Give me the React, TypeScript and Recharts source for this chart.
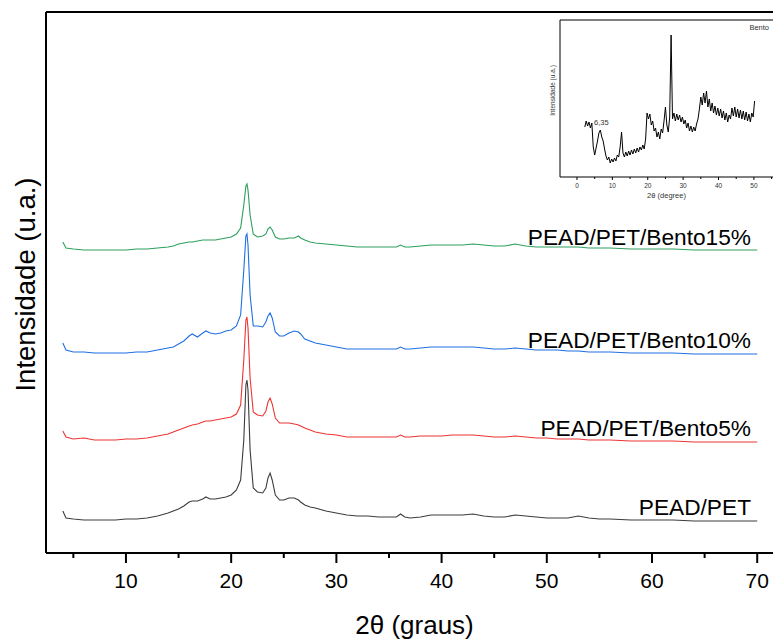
import { LineChart, Line, XAxis, YAxis } from 'recharts';

// 2θ (degrees) sampled along the main patterns
const theta = [
  4.0, 4.3, 5, 6, 7, 8, 9, 10, 11, 12, 13, 14, 14.5, 15, 15.5, 16, 16.3, 16.8, 17.3, 17.6,
  18, 18.5, 19, 19.5, 20, 20.5, 20.9, 21.2, 21.4, 21.5, 21.6, 21.8, 22.1, 22.5, 23, 23.3, 23.5,
  23.7, 23.9, 24.2, 24.6, 25, 25.5, 26, 26.4, 26.6, 27, 27.5, 28, 29, 30, 31, 32, 33, 34, 35,
  35.7, 36.1, 36.5, 37, 38, 39, 40, 41, 42, 43, 44, 45, 46, 47, 48, 49, 50, 51, 52, 53, 54, 55,
  56, 58, 60, 62, 64, 66, 68, 70,
];

// stacked intensities (a.u., offset already included)
const pead = [
  42, 35, 34, 33, 33, 33, 33, 34, 34, 35, 37, 40, 42, 44, 47, 51, 52, 52, 54, 56,
  54, 54, 55, 56, 58, 63, 73, 113, 168, 173, 163, 103, 65, 61, 60, 65, 75,
  80, 73, 58, 53, 53, 55, 55, 53, 51, 48, 46, 45, 42, 40, 38, 37, 37, 36, 36,
  36, 39, 36, 35, 36, 38, 38, 38, 38, 39, 37, 36, 36, 38, 37, 36, 35, 35, 35, 37, 35, 34,
  34, 33, 33, 33, 32, 32, 32, 32,
];
const bento5 = [
  122, 116, 114, 115, 113, 113, 113, 114, 114, 115, 117, 119, 121, 123, 125, 127, 128, 129, 131, 132,
  132, 133, 134, 135, 136, 139, 148, 193, 233, 236, 225, 175, 141, 138, 137, 142, 151,
  155, 149, 135, 130, 130, 130, 129, 128, 127, 125, 123, 121, 119, 118, 116, 116, 116, 116, 116,
  116, 118, 116, 116, 117, 117, 117, 118, 118, 118, 117, 116, 116, 117, 116, 115, 115, 114, 114, 114, 113, 113,
  113, 112, 112, 112, 111, 111, 111, 111,
];
const bento10 = [
  210, 203, 201, 201, 200, 200, 200, 200, 201, 201, 203, 205, 206, 209, 212, 217, 219, 216, 220, 222,
  220, 219, 220, 222, 223, 227, 238, 283, 317, 319, 308, 258, 227, 227, 226, 231, 237,
  240, 235, 221, 217, 217, 220, 222, 221, 219, 214, 212, 210, 208, 206, 204, 204, 204, 204, 204,
  204, 206, 204, 204, 205, 206, 206, 206, 206, 206, 205, 204, 204, 205, 204, 203, 203, 203, 202, 202, 201, 201,
  201, 200, 200, 200, 199, 199, 199, 199,
];
const bento15 = [
  311, 305, 304, 303, 303, 303, 303, 303, 304, 304, 305, 306, 307, 309, 310, 311, 311, 312, 313, 313,
  313, 313, 314, 315, 316, 319, 325, 348, 367, 369, 363, 338, 319, 316, 317, 319, 324,
  326, 323, 316, 314, 314, 315, 315, 317, 315, 313, 311, 310, 309, 308, 307, 306, 306, 306, 306,
  306, 308, 306, 306, 307, 308, 308, 308, 308, 309, 308, 307, 307, 309, 307, 306, 306, 306, 306, 306, 305, 305,
  305, 304, 304, 304, 303, 303, 303, 303,
];

const xTicks = [5, 10, 15, 20, 25, 30, 35, 40, 45, 50, 55, 60, 65, 70];

// inset: raw bentonite pattern
const insetTheta = [
  2.2, 2.6, 3.0, 3.4, 3.8, 4.2, 4.6, 5.0, 5.4, 5.8, 6.2, 6.6, 7.0, 7.4, 7.8, 8.2, 8.6, 9.0, 9.4, 9.8,
  10.2, 10.6, 11.0, 11.4, 11.8, 12.2, 12.6, 13.0, 13.4, 13.8, 14.2, 14.6, 15.0, 15.4, 15.8, 16.2, 16.6, 17.0, 17.4, 17.8,
  18.2, 18.6, 19.0, 19.4, 19.8, 20.2, 20.6, 21.0, 21.4, 21.8, 22.2, 22.6, 23.0, 23.4, 23.8, 24.2, 24.6, 25.0, 25.4, 25.8,
  26.2, 26.6, 27.0, 27.4, 27.8, 28.2, 28.6, 29.0, 29.4, 29.8, 30.2, 30.6, 31.0, 31.4, 31.8, 32.2, 32.6, 33.0, 33.4, 33.8,
  34.2, 34.6, 35.0, 35.4, 35.8, 36.2, 36.6, 37.0, 37.4, 37.8, 38.2, 38.6, 39.0, 39.4, 39.8, 40.2, 40.6, 41.0, 41.4, 41.8,
  42.2, 42.6, 43.0, 43.4, 43.8, 44.2, 44.6, 45.0, 45.4, 45.8, 46.2, 46.6, 47.0, 47.4, 47.8, 48.2, 48.6, 49.0, 49.4, 49.8,
  50.2,
];
const insetIntensity = [
  50, 56, 51, 55, 49, 54, 30, 22, 29, 36, 44, 47, 40, 36, 28, 21, 17, 20, 14, 18,
  15, 19, 16, 22, 20, 30, 45, 24, 20, 25, 21, 26, 22, 27, 23, 28, 24, 29, 25, 30,
  27, 32, 28, 38, 64, 58, 63, 52, 56, 46, 49, 40, 45, 38, 48, 44, 56, 70, 52, 45,
  60, 142, 58, 64, 56, 63, 57, 62, 55, 60, 53, 57, 49, 54, 46, 51, 45, 50, 46, 53,
  58, 68, 80, 72, 84, 74, 86, 70, 78, 66, 74, 64, 71, 62, 69, 61, 68, 59, 66, 57,
  64, 55, 62, 58, 69, 61, 70, 60, 68, 59, 67, 58, 66, 57, 65, 56, 63, 55, 64, 60,
  76,
];
const insetTicks = [0, 5, 10, 15, 20, 25, 30, 35, 40, 45, 50, 55];

const mainData = theta.map((t, i) => ({
  theta: t,
  pead: pead[i],
  bento5: bento5[i],
  bento10: bento10[i],
  bento15: bento15[i],
}));

const insetData = insetTheta.map((t, i) => ({ theta: t, intensity: insetIntensity[i] }));

const FONT = '"Liberation Sans", Arial, sans-serif';

const MainTick = (props: any) => {
  const { x, y, payload } = props;
  const major = payload.value % 10 === 0;
  return (
    <g>
      <line x1={x} y1={y} x2={x} y2={y + (major ? 10 : 5)} stroke="#000" strokeWidth={2} />
      {major && (
        <text x={x} y={y + 35} textAnchor="middle" fontSize={21} fill="#000">
          {payload.value}
        </text>
      )}
    </g>
  );
};

const InsetTick = (props: any) => {
  const { x, y, payload } = props;
  const major = payload.value % 10 === 0;
  return (
    <g>
      <line x1={x} y1={y} x2={x} y2={y + (major ? 3 : 2)} stroke="#000" strokeWidth={1} />
      {major && (
        <text x={x} y={y + 11} textAnchor="middle" fontSize={6.5} fill="#333">
          {payload.value}
        </text>
      )}
    </g>
  );
};

const curveLabels = [
  { text: 'PEAD/PET/Bento15%', top: 237 },
  { text: 'PEAD/PET/Bento10%', top: 340 },
  { text: 'PEAD/PET/Bento5%', top: 428 },
  { text: 'PEAD/PET', top: 507 },
];

export default function App() {
  return (
    <div
      style={{
        position: 'absolute',
        left: 0,
        top: 0,
        width: 773,
        height: 642,
        overflow: 'hidden',
        background: '#fff',
        fontFamily: FONT,
      }}
    >
      <LineChart width={773} height={642} data={mainData} margin={{ top: 11, right: 0, left: 45, bottom: 59 }}>
        <XAxis
          dataKey="theta"
          type="number"
          domain={[2.4, 71.5]}
          allowDataOverflow
          ticks={xTicks}
          interval={0}
          tick={<MainTick />}
          tickLine={false}
          tickSize={0}
          tickMargin={0}
          height={30}
          axisLine={{ stroke: '#000', strokeWidth: 2 }}
          label={{ value: '2θ (graus)', position: 'bottom', offset: 33, dx: 5, fontSize: 26, fill: '#000' }}
        />
        <XAxis
          xAxisId="top"
          orientation="top"
          dataKey="theta"
          type="number"
          domain={[2.4, 71.5]}
          allowDataOverflow
          tick={false}
          tickLine={false}
          height={1}
          axisLine={{ stroke: '#000', strokeWidth: 2 }}
        />
        <YAxis
          type="number"
          domain={[0, 541]}
          allowDataOverflow
          tick={false}
          tickLine={false}
          width={1}
          axisLine={{ stroke: '#000', strokeWidth: 2 }}
          label={{
            value: 'Intensidade (u.a.)',
            position: 'center',
            angle: -90,
            dx: -20,
            dy: 2,
            fontSize: 27.5,
            fill: '#000',
          }}
        />
        <Line dataKey="pead" stroke="#3c3c3c" strokeWidth={1.1} dot={false} isAnimationActive={false} />
        <Line dataKey="bento5" stroke="#ee3434" strokeWidth={1.1} dot={false} isAnimationActive={false} />
        <Line dataKey="bento10" stroke="#1f6fe3" strokeWidth={1.1} dot={false} isAnimationActive={false} />
        <Line dataKey="bento15" stroke="#2ca05c" strokeWidth={1.1} dot={false} isAnimationActive={false} />
      </LineChart>

      {curveLabels.map((l) => (
        <div
          key={l.text}
          style={{
            position: 'absolute',
            right: 22,
            top: l.top - 13,
            fontSize: 22.7,
            lineHeight: '26px',
            whiteSpace: 'nowrap',
            color: '#000',
          }}
        >
          {l.text}
        </div>
      ))}

      <div style={{ position: 'absolute', left: 540, top: 0 }}>
        <LineChart width={233} height={210} data={insetData} margin={{ top: 19, right: 0, left: 19, bottom: 23 }}>
          <XAxis
            dataKey="theta"
            type="number"
            domain={[-4.8, 55.4]}
            allowDataOverflow
            ticks={insetTicks}
            interval={0}
            tick={<InsetTick />}
            tickLine={false}
            tickSize={0}
            tickMargin={0}
            height={10}
            axisLine={{ stroke: '#000', strokeWidth: 1 }}
            label={{ value: '2θ (degree)', position: 'bottom', offset: 6, fontSize: 7.5, fill: '#333' }}
          />
          <XAxis
            xAxisId="top"
            orientation="top"
            dataKey="theta"
            type="number"
            domain={[-4.8, 55.4]}
            allowDataOverflow
            tick={false}
            tickLine={false}
            height={1}
            axisLine={{ stroke: '#000', strokeWidth: 1 }}
          />
          <YAxis
            type="number"
            domain={[0, 157]}
            allowDataOverflow
            tick={false}
            tickLine={false}
            width={1}
            axisLine={{ stroke: '#000', strokeWidth: 1 }}
            label={{
              value: 'Intensidade (u.a.)',
              position: 'center',
              angle: -90,
              dx: -7,
              dy: -8,
              fontSize: 6.5,
              fill: '#333',
            }}
          />
          <Line dataKey="intensity" stroke="#000" strokeWidth={1} dot={false} isAnimationActive={false} />
        </LineChart>
      </div>

      <div style={{ position: 'absolute', right: 4, top: 23, fontSize: 7.5, lineHeight: '10px', color: '#333' }}>
        Bento
      </div>
      <div style={{ position: 'absolute', left: 594, top: 118, fontSize: 7.5, lineHeight: '10px', color: '#333' }}>
        6,35
      </div>
    </div>
  );
}
